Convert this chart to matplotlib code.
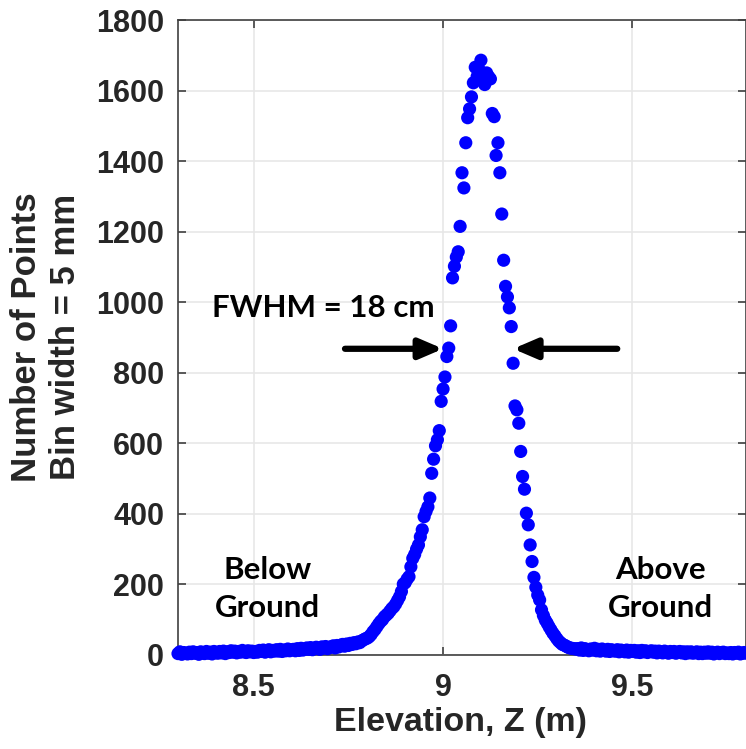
import numpy as np
import matplotlib
matplotlib.use("Agg")
import matplotlib.pyplot as plt

# histogram of point elevations, 5 mm bins starting at 8.300 m
bin_start = 8.300
bin_width = 0.005

# 8.300 .. 8.795 (below ground tail)
counts_low = [4, 9, 2, 7, 5, 3, 8, 4, 9, 5, 7, 2, 9, 6, 4, 10, 5, 8, 3, 10, 7,
              5, 10, 6, 11, 4, 9, 7, 12, 8, 11, 6, 10, 8, 13, 9, 7, 12, 9, 11, 7,
              10, 8, 13, 10, 14, 8, 12, 15, 9, 13, 11, 15, 11, 16, 10, 14, 12, 17, 12, 15,
              16, 12, 18, 13, 19, 14, 17, 20, 16, 21, 15, 19, 22, 18, 16, 23, 20, 24, 18, 22,
              23, 26, 20, 27, 23, 28, 30, 25, 31, 27, 33, 30, 35, 32, 37, 35, 40, 43, 46]

# 8.800 .. 9.350 (ground peak)
counts_peak = [48, 52, 58, 66, 72, 80, 88, 95, 100, 108,
               113, 118, 125, 132, 137, 145, 155, 165, 180, 201,
               205, 215, 222, 250, 274, 285, 300, 312, 335, 355,
               392, 407, 420, 445, 515, 555, 593, 610, 636, 719,
               754, 788, 846, 870, 933, 1069, 1102, 1128, 1143, 1215,
               1367, 1324, 1452, 1523, 1548, 1582, 1622, 1666, 1640, 1660,
               1686, 1640, 1617, 1650, 1640, 1633, 1535, 1526, 1416, 1452,
               1367, 1250, 1119, 1045, 1015, 984, 931, 827, 706, 695,
               657, 577, 506, 470, 402, 369, 312, 265, 220, 192,
               170, 156, 128, 112, 99, 90, 80, 71, 62, 55,
               47, 40, 35, 30, 28, 25, 22, 20, 19, 18,
               17]

# 9.355 .. 9.800 (above ground tail)
counts_high = [18, 14, 20, 13, 18, 15, 12, 17, 14, 19, 12, 16, 11, 17, 13, 11, 16, 10, 15, 12,
               11, 15, 9, 14, 12, 9, 14, 8, 13, 10, 13, 8, 12, 7, 13, 9, 12, 7, 10, 12,
               8, 11, 6, 11, 9, 6, 11, 8, 5, 10, 7, 10, 5, 8, 10, 6, 9, 4, 9, 6,
               9, 5, 7, 9, 4, 8, 4, 8, 5, 9, 5, 8, 3, 6, 8, 4, 7, 8, 4, 6,
               4, 7, 3, 7, 5, 8, 3, 5, 7, 5]

counts = np.array(counts_low + counts_peak + counts_high)
z = bin_start + bin_width * np.arange(len(counts))

x_ticks = [8.5, 9, 9.5]
x_ticklabels = ["8.5", "9", "9.5"]
y_ticks = [0, 200, 400, 600, 800, 1000, 1200, 1400, 1600, 1800]

fwhm_y = 868
fwhm_left = (8.741, 9.0)
fwhm_right = (9.460, 9.185)

W, H = 746, 749
fig = plt.figure(figsize=(W / 100, H / 100), dpi=100)
ax = fig.add_axes([178 / W, 1 - 655 / H, (746 - 178) / W, (655 - 20) / H])

ax.scatter(z, counts, s=90, color=(0, 0, 1), edgecolors="none", clip_on=False, zorder=3)

ax.set_xlim(8.3, 9.8)
ax.set_ylim(0, 1800)
ax.set_xticks(x_ticks)
ax.set_xticklabels(x_ticklabels)
ax.set_yticks(y_ticks)

tick_font = dict(family="Liberation Sans", weight="bold", size=22)
for lab in ax.get_xticklabels() + ax.get_yticklabels():
    lab.set_fontproperties(matplotlib.font_manager.FontProperties(**tick_font))
    lab.set_color("#262626")

ax.grid(True, color="#e6e6e6", linewidth=1.1, zorder=0)
ax.set_axisbelow(True)
for sp in ax.spines.values():
    sp.set_color("#404040")
    sp.set_linewidth(1.2)
ax.tick_params(axis="y", direction="in", length=6, width=1.2, color="#404040",
               right=True, pad=10)
ax.tick_params(axis="x", direction="in", length=6, width=1.2, color="#404040",
               top=True, pad=13)

fig.text(461 / W, 1 - 723 / H, "Elevation, Z (m)", ha="center", va="center",
         family="Liberation Sans", weight="bold", size=24.5, color="#262626")
fig.text(46 / W, 1 - 337 / H, "Number of Points\nBin width = 5 mm", ha="center",
         va="center", rotation=90, multialignment="center", linespacing=1.25,
         family="Liberation Sans", weight="bold", size=25, color="#262626")

ann_font = dict(family="Lato", weight="bold", size=22.5, color="black")
ax.text(8.683, 984, "FWHM = 18 cm", ha="center", va="center", **ann_font)
ax.text(8.537, 187, "Below\nGround", ha="center", va="center", linespacing=1.45, **ann_font)
ax.text(9.574, 187, "Above\nGround", ha="center", va="center", linespacing=1.45, **ann_font)

arrow = dict(arrowstyle="-|>,head_length=1.4,head_width=0.6", color="black", lw=4.5,
             shrinkA=0, shrinkB=0)
ax.annotate("", xy=(fwhm_left[1], fwhm_y), xytext=(fwhm_left[0], fwhm_y), arrowprops=arrow)
ax.annotate("", xy=(fwhm_right[1], fwhm_y), xytext=(fwhm_right[0], fwhm_y), arrowprops=arrow)

fig.savefig("out.png", dpi=100)
